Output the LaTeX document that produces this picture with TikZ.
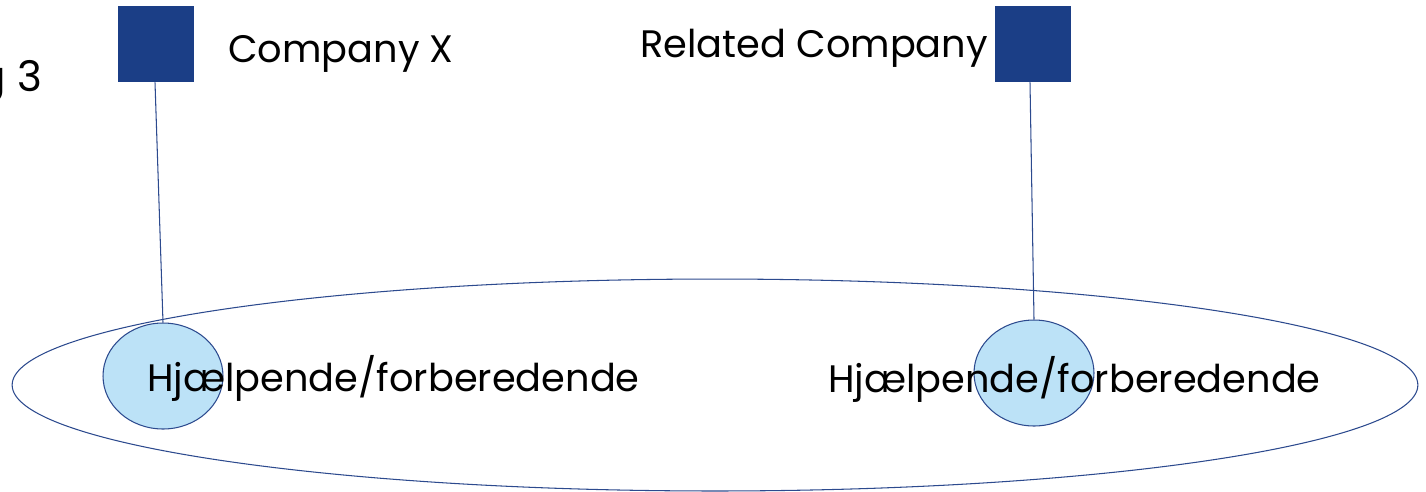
\documentclass[tikz,border=0pt]{standalone}
\usepackage{fontspec}
\setmainfont{Poppins}
\usetikzlibrary{shapes.geometric}
\definecolor{sqblue}{HTML}{1B3E86}
\definecolor{lineblue}{HTML}{2C4A8E}
\definecolor{circfill}{HTML}{BCE2F7}
\tikzset{
  sq/.style={draw=none, fill=sqblue, minimum width=1.52cm, minimum height=1.52cm, inner sep=0},
  circ/.style={ellipse, draw=lineblue, fill=circfill, line width=0.6pt, minimum width=2.4cm, minimum height=2.12cm, inner sep=0},
  big/.style={ellipse, draw=lineblue, line width=0.6pt, minimum width=28.12cm, minimum height=4.24cm, inner sep=0},
  conn/.style={draw=lineblue, line width=0.6pt},
  lbl/.style={inner sep=0, anchor=base west, font=\fontsize{21.8}{26}\selectfont}
}
\begin{document}
\begin{tikzpicture}[x=0.02cm, y=-0.02cm]
\useasboundingbox (0,0) rectangle (1426,491);
\node[big] (outer) at (715,385) {};
\node[sq] (sqA) at (156,44) {};
\node[sq] (sqB) at (1033,44) {};
\node[circ] (cA) at (163,376) {};
\node[circ] (cB) at (1034,373) {};
\draw[conn] (sqA.south) ++(-1,0) coordinate (a1) -- (cA.north);
\draw[conn] (sqB.south) ++(-3,0) coordinate (b1) -- (cB.north);
\node[lbl] (tA) at (228,62) {Company X};
\node[lbl] (tB) at (640,57) {Related Company};
\node[lbl] (hA) at (147,391) {Hjælpende/forberedende};
\node[lbl] (hB) at (828,392) {Hjælpende/forberedende};
\node[lbl, font=\fontsize{24}{28}\selectfont] (bil) at (-23,91) {g 3};
\end{tikzpicture}
\end{document}
